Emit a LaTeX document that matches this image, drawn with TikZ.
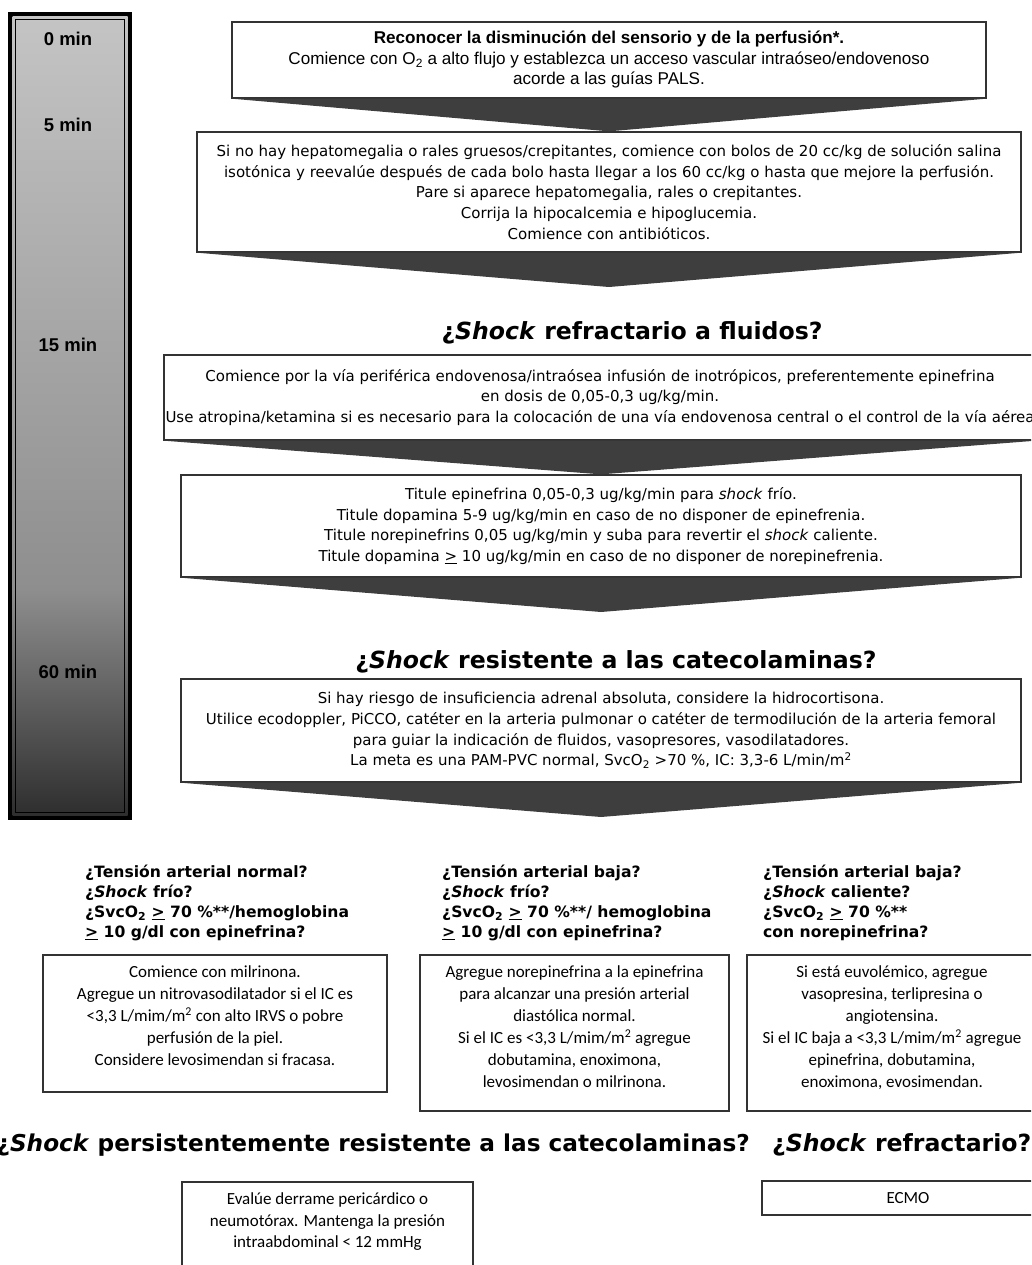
\documentclass[tikz,border=0pt]{standalone}
\usepackage{fontspec}
\setmainfont{DejaVu Sans}
\newfontfamily\arialfont{Liberation Sans}
\newfontfamily\calibrifont{Carlito}
\usetikzlibrary{positioning}

\definecolor{chevgray}{HTML}{3E3E3E}
\definecolor{boxline}{HTML}{333333}
\definecolor{barlight}{HTML}{C4C4C4}
\definecolor{barmid}{HTML}{8E8E8E}
\definecolor{bardark}{HTML}{4C4C4C}
\definecolor{bardeep}{HTML}{2E2E2E}

\begin{document}
\begin{tikzpicture}[x=1pt, y=-1pt,
    stepbox/.style={draw=boxline, line width=1.3pt, fill=white, inner sep=0pt, align=center},
    arialtxt/.style={font=\arialfont\fontsize{17.1}{20.5}\selectfont},
    tahomatxt/.style={font=\fontsize{15}{20.7}\selectfont},
    calibritxt/.style={font=\calibrifont\fontsize{17}{22}\selectfont, inner sep=0pt, align=center},
    question/.style={font=\bfseries\fontsize{15.6}{20}\selectfont, inner sep=0pt, align=left, anchor=north west},
    heading/.style={font=\bfseries\fontsize{23.6}{28}\selectfont, inner sep=0pt},
    minlabel/.style={font=\arialfont\bfseries\fontsize{18.5}{22}\selectfont},
    chevron/.style={fill=chevgray}]

    \useasboundingbox (0,0) rectangle (1031,1265);
    \clip (0,0) rectangle (1031,1265);

    % Time bar
    \fill[black] (8,12) rectangle (132,820);
    \shade[top color=barlight, bottom color=barmid] (12.5,16.5) rectangle (127.5,590);
    \shade[top color=barmid, middle color=bardark, bottom color=bardeep] (12.5,589.5) rectangle (127.5,815.5);
    \draw[black, line width=1.2pt] (15.5,19.5) rectangle (124.5,812.5);
    \node[minlabel] (m0) at (68,39) {0 min};
    \node[minlabel] (m5) at (68,125) {5 min};
    \node[minlabel] (m15) at (68,345) {15 min};
    \node[minlabel] (m60) at (68,672) {60 min};

    % First steps
    \node[stepbox, arialtxt, minimum width=754, minimum height=76] (b1) at (609,60)
        {\textbf{Reconocer la disminución del sensorio y de la perfusión*.}\\
         Comience con O\textsubscript{2} a alto flujo y establezca un acceso vascular intraóseo/endovenoso\\
         acorde a las guías PALS.};
    \node[stepbox, tahomatxt, minimum width=824, minimum height=120] (b2) at (609,192)
        {Si no hay hepatomegalia o rales gruesos/crepitantes, comience con bolos de 20 cc/kg de solución salina\\
         isotónica y reevalúe después de cada bolo hasta llegar a los 60 cc/kg o hasta que mejore la perfusión.\\
         Pare si aparece hepatomegalia, rales o crepitantes.\\
         Corrija la hipocalcemia e hipoglucemia.\\
         Comience con antibióticos.};

    % Fluid refractory
    \node[heading] (q1head) at (632,333) {¿\textit{Shock} refractario a fluidos?};
    \node[stepbox, tahomatxt, minimum width=872, minimum height=85] (b3) at (600,397.5)
        {Comience por la vía periférica endovenosa/intraósea infusión de inotrópicos, preferentemente epinefrina\\
         en dosis de 0,05-0,3 ug/kg/min.\\
         Use atropina/ketamina si es necesario para la colocación de una vía endovenosa central o el control de la vía aérea};
    \node[stepbox, tahomatxt, minimum width=840, minimum height=102] (b4) at (601,526)
        {Titule epinefrina 0,05-0,3 ug/kg/min para \textit{shock} frío.\\
         Titule dopamina 5-9 ug/kg/min en caso de no disponer de epinefrenia.\\
         Titule norepinefrins 0,05 ug/kg/min y suba para revertir el \textit{shock} caliente.\\
         Titule dopamina \underline{>} 10 ug/kg/min en caso de no disponer de norepinefrenia.};

    % Catecholamine resistant
    \node[heading] (q2head) at (616,662) {¿\textit{Shock} resistente a las catecolaminas?};
    \node[stepbox, tahomatxt, minimum width=840, minimum height=103] (b5) at (601,730.5)
        {Si hay riesgo de insuficiencia adrenal absoluta, considere la hidrocortisona.\\
         Utilice ecodoppler, PiCCO, catéter en la arteria pulmonar o catéter de termodilución de la arteria femoral\\
         para guiar la indicación de fluidos, vasopresores, vasodilatadores.\\
         La meta es una PAM-PVC normal, SvcO\textsubscript{2} >70 \%, IC: 3,3-6 L/min/m\textsuperscript{2}};

    % Arrows between steps
    \coordinate (tip2) at (609,287);
    \coordinate (tip4) at (601,612);
    \coordinate (tip5) at (601,817);
    \foreach \from/\to in {b1/b2.north, b2/tip2, b3/b4.north, b4/tip4, b5/tip5}
        \fill[chevron] (\from.south west) -- (\from.south east) -- (\to) -- cycle;

    % Three branches
    \node[question] (qa) at (85,863.6)
        {\strut¿Tensión arterial normal?\\ ¿\textit{Shock} frío?\\
         ¿SvcO\textsubscript{2} \underline{>} 70 \%**/hemoglobina\\ \underline{>} 10 g/dl con epinefrina?};
    \node[question] (qb) at (442,863.6)
        {\strut¿Tensión arterial baja?\\ ¿\textit{Shock} frío?\\
         ¿SvcO\textsubscript{2} \underline{>} 70 \%**/ hemoglobina\\ \underline{>} 10 g/dl con epinefrina?};
    \node[question] (qc) at (763,863.6)
        {\strut¿Tensión arterial baja?\\ ¿\textit{Shock} caliente?\\
         ¿SvcO\textsubscript{2} \underline{>} 70 \%**\\ con norepinefrina?};

    \node[stepbox, minimum width=344, minimum height=137] (b6) at (215,1023.5) {};
    \node[calibritxt, below=7.6pt of b6.north] (b6txt)
        {\strut Comience con milrinona.\\
         Agregue un nitrovasodilatador si el IC es\\
         <3,3 L/mim/m\textsuperscript{2} con alto IRVS o pobre\\
         perfusión de la piel.\\
         Considere levosimendan si fracasa.};
    \node[stepbox, minimum width=309, minimum height=156] (b7) at (574.5,1033) {};
    \node[calibritxt, below=7.6pt of b7.north] (b7txt)
        {\strut Agregue norepinefrina a la epinefrina\\
         para alcanzar una presión arterial\\
         diastólica normal.\\
         Si el IC es <3,3 L/mim/m\textsuperscript{2} agregue\\
         dobutamina, enoximona,\\
         levosimendan o milrinona.};
    \node[stepbox, minimum width=290, minimum height=156] (b8) at (892,1033) {};
    \node[calibritxt, below=7.6pt of b8.north] (b8txt)
        {\strut Si está euvolémico, agregue\\
         vasopresina, terlipresina o\\
         angiotensina.\\
         Si el IC baja a <3,3 L/mim/m\textsuperscript{2} agregue\\
         epinefrina, dobutamina,\\
         enoximona, evosimendan.};

    % Last steps
    \node[heading, font=\bfseries\fontsize{23.2}{28}\selectfont, anchor=east] (q3head) at (750,1145) {¿\textit{Shock} persistentemente resistente a las catecolaminas?};
    \node[heading, anchor=west] (q4head) at (772,1145) {¿\textit{Shock} refractario?};
    \node[stepbox, minimum width=291, minimum height=108] (b9) at (327.5,1236) {};
    \node[calibritxt, font=\calibrifont\fontsize{17}{21.5}\selectfont, below=8pt of b9.north] (b9txt)
        {\strut Evalúe derrame pericárdico o\\
         neumotórax. Mantenga la presión\\
         intraabdominal < 12 mmHg};
    \node[stepbox, calibritxt, minimum width=292, minimum height=34] (b10) at (908,1198) {ECMO};
\end{tikzpicture}
\end{document}
